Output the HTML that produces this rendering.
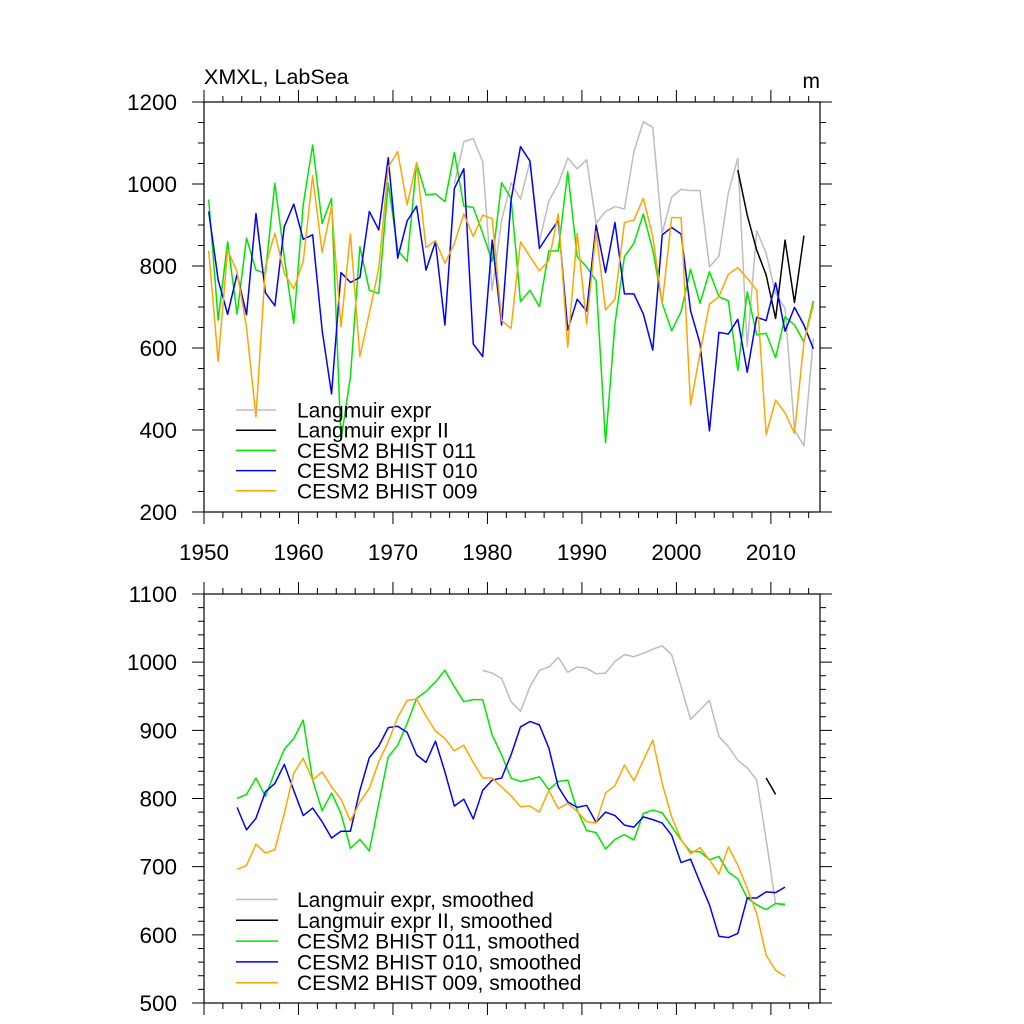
<!DOCTYPE html>
<html><head><meta charset="utf-8"><style>
html,body{margin:0;padding:0;background:#fff;}
svg{display:block;font-family:"Liberation Sans",sans-serif;}
</style></head><body>
<svg id="chart" width="1024" height="1024" viewBox="0 0 1024 1024"></svg>
<script>
const years = []; for (let i = 0; i < 65; i++) years.push(1950.5 + i);
const green = [962,668,859,683,868,790,782,1002,820,660,949,1095,904,965,376,530,847,741,733,1002,839,811,1050,973,976,957,1077,946,943,880,811,1003,965,713,741,701,837,837,1030,823,798,764,369,660,823,855,927,839,709,642,689,792,709,786,725,715,545,737,632,636,576,676,656,615,715];
const blue = [933,766,682,780,681,928,735,703,896,951,865,876,644,488,784,760,772,933,888,1064,819,910,946,790,859,656,989,1037,610,579,863,656,961,1091,1056,843,878,911,644,719,690,900,784,906,732,732,683,595,876,894,878,691,611,398,638,634,670,541,675,667,759,641,699,656,598];
const orange = [837,567,839,786,650,432,798,880,782,744,811,1020,833,945,652,878,579,685,794,1041,1079,949,1052,845,862,807,855,927,872,924,916,667,648,859,823,788,813,927,602,880,658,884,693,719,906,912,965,872,709,918,918,461,587,707,725,780,796,770,741,389,473,442,392,615,705];
const grayStart = 26;
const gray = [1000,1103,1111,1054,741,912,1003,963,1054,859,959,1000,1063,1037,1059,904,933,945,939,1079,1152,1138,880,968,987,984,984,798,824,979,1063,603,886,831,733,697,400,361,624];
const blackStart = 56;
const black = [1034,924,839,778,672,863,711,874];
const smStart = 3;
const greenS = [800,806,830,803,839,872,888,915,827,782,808,778,727,740,723,793,861,878,910,947,957,971,988,964,942,945,945,893,864,830,825,828,832,813,825,827,783,753,750,726,740,747,739,778,783,779,759,739,722,722,710,715,692,682,654,644,637,646,644];
const blueS = [787,754,771,810,822,850,812,775,786,766,742,752,752,812,860,877,904,906,897,864,853,884,839,789,799,770,812,827,830,864,905,913,908,874,817,795,787,790,765,780,775,761,758,773,769,764,746,706,711,677,644,598,596,602,654,654,663,662,670];
const orangeS = [696,702,733,720,725,778,837,859,827,839,817,799,767,795,815,854,883,919,944,946,921,899,888,870,878,853,830,830,817,804,788,789,780,812,785,793,781,766,764,808,819,849,826,856,886,822,773,740,719,728,710,689,729,702,668,631,570,548,539];
const graySStart = 29;
const grayS = [988,984,976,942,928,964,988,993,1007,985,993,991,983,984,1001,1011,1008,1013,1019,1024,1011,964,916,930,944,891,876,856,845,827,740,646,646];
const blackSStart = 59;
const blackS = [830,806];
const xTicks = [1950,1960,1970,1980,1990,2000,2010];
const yTicksTop = [200,400,600,800,1000,1200];
const yTicksBot = [500,600,700,800,900,1000,1100];

const svg = document.getElementById('chart');
const NS = 'http://www.w3.org/2000/svg';
function mk(tag, attrs, parent) {
  const e = document.createElementNS(NS, tag);
  for (const k in attrs) e.setAttribute(k, attrs[k]);
  (parent || svg).appendChild(e); return e;
}
const X0 = 204, X1 = 820, XMIN = 1950, XMAX = 2015.2;
function xs(v) { return X0 + (v - XMIN) / (XMAX - XMIN) * (X1 - X0); }

function panel(name, top, bot, ymin, ymax, majorY, minorY) {
  const ys = v => bot - (v - ymin) / (ymax - ymin) * (bot - top);
  const g = mk('g', {});
  
  
  const fr = mk('rect', {x: X0, y: top, width: X1 - X0, height: bot - top, fill: 'none', stroke: '#000', 'stroke-width': 1.2}, g);
  
  
  let d = '';
  for (let y = XMIN; y <= XMAX; y += 2) {
    const x = xs(y), L = (y % 10 === 0) ? 12 : 6;
    d += `M${x},${top}v${-L}M${x},${bot}v${L}`;
  }
  for (let v = ymin; v <= ymax + 0.01; v += minorY) {
    const y = ys(v), L = (Math.abs(v % majorY) < 0.01) ? 12 : 6;
    d += `M${X0},${y}h${-L}M${X1},${y}h${L}`;
  }
  const tk = mk('path', {d: d, stroke: '#000', 'stroke-width': 1, fill: 'none'}, g);
  
  
  return {g, ys};
}

function series(p, name, start, vals, color, width) {
  let d = '';
  vals.forEach((v, i) => { d += (i ? 'L' : 'M') + xs(years[start + i]).toFixed(2) + ',' + p.ys(v).toFixed(2); });
  const e = mk('path', {d: d, stroke: color, 'stroke-width': width || 1.5, fill: 'none', 'stroke-linejoin': 'round'}, p.g);
  
  
}

function text(s, x, y, anchor, size, name, parent) {
  const t = mk('text', {x: x, y: y, 'text-anchor': anchor, 'font-size': size, fill: '#000'}, parent);
  t.textContent = s;
  
  
  return t;
}

// top panel
const P1 = panel('top-panel', 102, 512, 200, 1200, 200, 50);
yTicksTop.forEach(v => text(String(v), 177, P1.ys(v) + 8, 'end', 22.5, 'top-y-tick-label', P1.g));
xTicks.forEach(v => text(String(v), xs(v), 560, 'middle', 22.5, 'x-tick-label', P1.g));
text('XMXL, LabSea', 204, 84, 'start', 21.5, 'chart-title');
text('m', 820, 88, 'end', 21, 'units-label');
series(P1, 'line-langmuir-expr', grayStart, gray, '#bdbdbd');
series(P1, 'line-langmuir-expr-ii', blackStart, black, '#000');
series(P1, 'line-bhist-011', 0, green, '#00e600');
series(P1, 'line-bhist-010', 0, blue, '#0000ff');
series(P1, 'line-bhist-009', 0, orange, '#ffa500');

// bottom panel
const P2 = panel('bottom-panel', 594, 1003, 500, 1100, 100, 20);
yTicksBot.forEach(v => text(String(v), 177, P2.ys(v) + 8, 'end', 22.5, 'bottom-y-tick-label', P2.g));
series(P2, 'line-langmuir-expr-smoothed', graySStart, grayS, '#bdbdbd');
series(P2, 'line-langmuir-expr-ii-smoothed', blackSStart, blackS, '#000');
series(P2, 'line-bhist-011-smoothed', smStart, greenS, '#00e600');
series(P2, 'line-bhist-010-smoothed', smStart, blueS, '#0000ff');
series(P2, 'line-bhist-009-smoothed', smStart, orangeS, '#ffa500');

function legend(name, entries, y0, dy, lx1) {
  const g = mk('g', {});
  
  
  entries.forEach((en, i) => {
    const y = y0 + i * dy;
    const l = mk('line', {x1: 236, x2: lx1, y1: y, y2: y, stroke: en[1], 'stroke-width': 1.5}, g);
    
    
    text(en[0], 297, y + 7.5, 'start', 21, 'legend-entry', g);
  });
}
legend('top-legend', [['Langmuir expr','#bdbdbd'],['Langmuir expr II','#000'],['CESM2 BHIST 011','#00e600'],['CESM2 BHIST 010','#0000ff'],['CESM2 BHIST 009','#ffa500']], 410, 20.2, 276);
legend('bottom-legend', [['Langmuir expr, smoothed','#bdbdbd'],['Langmuir expr II, smoothed','#000'],['CESM2 BHIST 011, smoothed','#00e600'],['CESM2 BHIST 010, smoothed','#0000ff'],['CESM2 BHIST 009, smoothed','#ffa500']], 899.5, 20.8, 278);
</script>
</body></html>
